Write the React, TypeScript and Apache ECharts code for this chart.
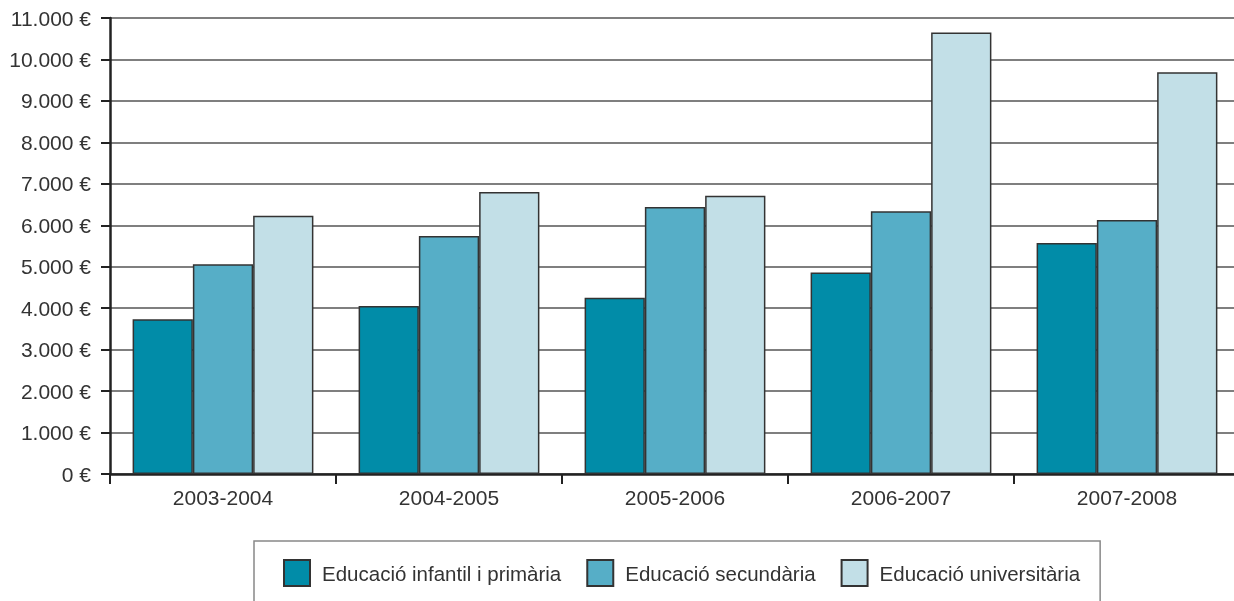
import React, { useEffect, useRef } from "react";
import * as echarts from "echarts";

const categories = ["2003-2004", "2004-2005", "2005-2006", "2006-2007", "2007-2008"];
const seriesNames = ["Educació infantil i primària", "Educació secundària", "Educació universitària"];
const infantilPrimaria = [3730, 4050, 4250, 4860, 5570];
const secundaria = [5060, 5740, 6440, 6340, 6130];
const universitaria = [6230, 6800, 6710, 10650, 9690];
const colors = ["#018CA8", "#56AEC7", "#C2DFE7"];

const fmt = (v: number) => {
  const s = String(Math.round(v)).replace(/\B(?=(\d{3})+(?!\d))/g, ".");
  return s + " €";
};

export default function App() {
  const ref = useRef<HTMLDivElement>(null);
  useEffect(() => {
    const chart = echarts.init(ref.current!, undefined, { renderer: "svg" });
    const font = "'Liberation Sans', Arial, sans-serif";
    const data = [infantilPrimaria, secundaria, universitaria];
    chart.setOption({
      animation: false,
      textStyle: { fontFamily: font },
      grid: { left: 110, right: 0, top: 18, bottom: 127 },
      xAxis: {
        type: "category",
        data: categories,
        axisLine: { lineStyle: { color: "#222", width: 2.5 } },
        axisTick: { show: true, length: 10, lineStyle: { color: "#222", width: 2 } },
        axisLabel: { color: "#333", fontSize: 21, margin: 13, fontFamily: font },
      },
      yAxis: {
        type: "value",
        min: 0,
        max: 11000,
        interval: 1000,
        axisLine: { show: true, lineStyle: { color: "#222", width: 2.5 } },
        axisTick: { show: true, length: 9, lineStyle: { color: "#222", width: 2 } },
        axisLabel: { color: "#333", fontSize: 21, margin: 19, fontFamily: font, formatter: fmt },
        splitLine: { lineStyle: { color: "#555", width: 1.5 } },
      },
      legend: {
        left: 254,
        top: 541,
        orient: "horizontal",
        itemWidth: 26,
        itemHeight: 26,
        itemGap: 25,
        padding: [18, 20, 18, 29],
        borderColor: "#888",
        borderWidth: 1.5,
        icon: "rect",
        textStyle: { color: "#333", fontSize: 20.5, fontFamily: font, padding: [0, 0, 0, 7] },
        data: seriesNames,
      },
      series: seriesNames.map((name, i) => ({
        name,
        type: "bar",
        data: data[i],
        barGap: "0%",
        barCategoryGap: "20%",
        itemStyle: { color: colors[i], borderColor: "#333", borderWidth: 1.5 },
      })),
    });
    return () => chart.dispose();
  }, []);
  return (
    <div style={{ position: "fixed", left: 0, top: 0, width: 1234, height: 601, overflow: "hidden" }}>
      <div ref={ref} style={{ width: 1240, height: 601 }} />
    </div>
  );
}
